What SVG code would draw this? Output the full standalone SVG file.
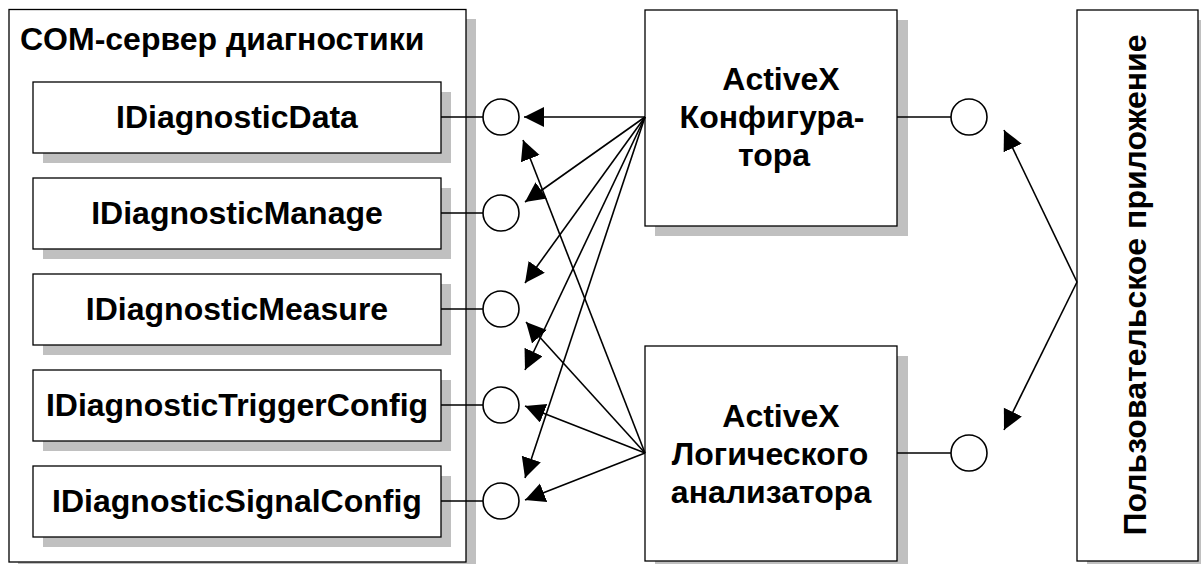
<svg xmlns="http://www.w3.org/2000/svg" width="1201" height="564" viewBox="0 0 1201 564">
<defs>
<style>
.box{fill:#fff;stroke:#000;stroke-width:1.3}
.sh{fill:#c0c0c0}
.t{font-family:"Liberation Sans",Arial,sans-serif;font-weight:bold;font-size:32px;fill:#000}
.m{text-anchor:middle}
.ln{stroke:#000;stroke-width:1.6;fill:none}
.arr{stroke:#000;stroke-width:1.6;fill:none;marker-end:url(#ah)}
.c{fill:#fff;stroke:#000;stroke-width:1.6}
</style>
<marker id="ah" markerUnits="userSpaceOnUse" markerWidth="22" markerHeight="22" refX="20" refY="10" orient="auto" viewBox="0 0 22 22">
<path d="M0,0 L20,10 L0,20 z" fill="#000"/>
</marker>
</defs>
<rect width="1201" height="564" fill="#fff"/>

<g id="com-server">
<rect class="sh" x="18" y="19" width="458" height="553"/>
<rect class="box" x="9" y="9.5" width="457" height="552.5"/>
<text class="t" x="20" y="50">COM-сервер диагностики</text>
</g>

<g id="i-data">
<rect class="sh" x="43" y="92" width="408" height="71"/>
<rect class="box" x="33" y="82" width="408" height="71"/>
<text class="t m" x="237" y="128">IDiagnosticData</text>
</g>
<g id="i-manage">
<rect class="sh" x="43" y="188" width="408" height="71"/>
<rect class="box" x="33" y="178" width="408" height="71"/>
<text class="t m" x="237" y="224">IDiagnosticManage</text>
</g>
<g id="i-measure">
<rect class="sh" x="43" y="284" width="408" height="71"/>
<rect class="box" x="33" y="274" width="408" height="71"/>
<text class="t m" x="237" y="320">IDiagnosticMeasure</text>
</g>
<g id="i-trigger">
<rect class="sh" x="43" y="380" width="408" height="71"/>
<rect class="box" x="33" y="370" width="408" height="71"/>
<text class="t m" x="237" y="416">IDiagnosticTriggerConfig</text>
</g>
<g id="i-signal">
<rect class="sh" x="43" y="476" width="408" height="71"/>
<rect class="box" x="33" y="466" width="408" height="71"/>
<text class="t m" x="237" y="512">IDiagnosticSignalConfig</text>
</g>

<g id="activex-config">
<rect class="sh" x="655" y="20" width="253" height="216"/>
<rect class="box" x="645" y="10" width="252" height="216"/>
<text class="t m" x="781" y="90">ActiveX</text>
<text class="t m" x="772" y="128">Конфигура-</text>
<text class="t m" x="774" y="166">тора</text>
</g>

<g id="activex-logic">
<rect class="sh" x="655" y="356" width="253" height="216"/>
<rect class="box" x="645" y="346" width="252" height="215"/>
<text class="t m" x="781" y="427">ActiveX</text>
<text class="t m" x="770" y="465">Логического</text>
<text class="t m" x="771" y="503">анализатора</text>
</g>

<g id="user-app">
<rect class="sh" x="1087" y="20" width="121" height="552"/>
<rect class="box" x="1077" y="10" width="121" height="551"/>
<text class="t m" transform="translate(1146,285) rotate(-90)">Пользовательское приложение</text>
</g>

<g id="connectors">
<line class="ln" x1="441" y1="117" x2="483" y2="117"/>
<line class="ln" x1="441" y1="213" x2="483" y2="213"/>
<line class="ln" x1="441" y1="309" x2="483" y2="309"/>
<line class="ln" x1="441" y1="405" x2="483" y2="405"/>
<line class="ln" x1="441" y1="501" x2="483" y2="501"/>
<circle class="c" cx="501" cy="117" r="18"/>
<circle class="c" cx="501" cy="213" r="18"/>
<circle class="c" cx="501" cy="309" r="18"/>
<circle class="c" cx="501" cy="405" r="18"/>
<circle class="c" cx="501" cy="501" r="18"/>

<line class="arr" x1="645" y1="117" x2="524" y2="117"/>
<line class="arr" x1="645" y1="117" x2="525" y2="202"/>
<line class="arr" x1="645" y1="117" x2="525" y2="283"/>
<line class="arr" x1="645" y1="117" x2="525" y2="370"/>
<line class="arr" x1="645" y1="117" x2="525" y2="478"/>

<line class="arr" x1="645" y1="453" x2="523" y2="140"/>
<line class="arr" x1="645" y1="453" x2="526" y2="322"/>
<line class="arr" x1="645" y1="453" x2="525" y2="406"/>
<line class="arr" x1="645" y1="453" x2="525" y2="500"/>

<line class="ln" x1="897" y1="117" x2="951" y2="117"/>
<circle class="c" cx="969" cy="117" r="18"/>
<line class="ln" x1="897" y1="453" x2="951" y2="453"/>
<circle class="c" cx="969" cy="453" r="18"/>

<line class="arr" x1="1077" y1="282" x2="1004" y2="130"/>
<line class="arr" x1="1077" y1="282" x2="1004" y2="430"/>
</g>
</svg>
